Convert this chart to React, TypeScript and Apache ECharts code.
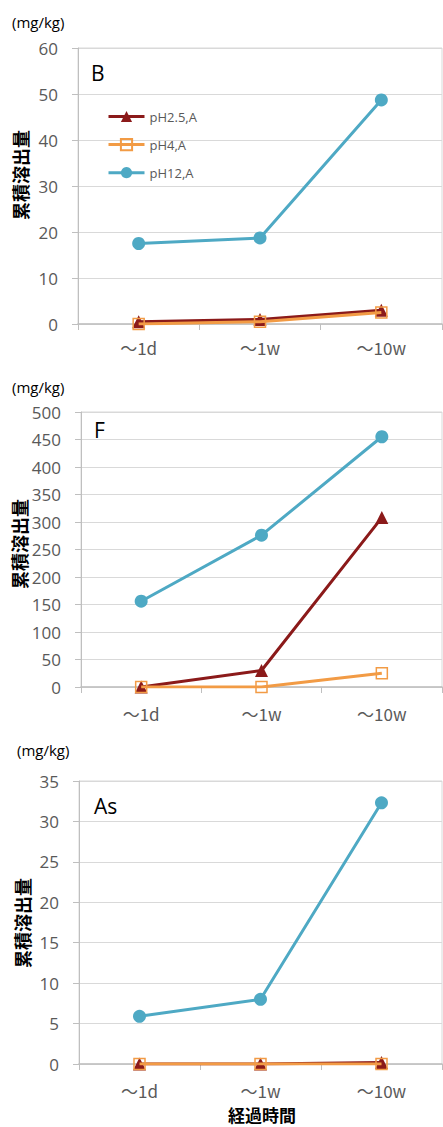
import React, { useEffect, useRef } from "react";
import * as echarts from "echarts";

const categories = ["～1d", "～1w", "～10w"];
const seriesNames = ["pH2.5,A", "pH4,A", "pH12,A"];

const bPH25 = [0.5, 1.0, 3.0];
const bPH4 = [0, 0.5, 2.5];
const bPH12 = [17.5, 18.7, 48.7];

const fPH25 = [0, 30, 308];
const fPH4 = [0, 0, 25];
const fPH12 = [156, 276, 455];

const asPH25 = [0, 0, 0.2];
const asPH4 = [0, 0, 0];
const asPH12 = [5.9, 8.0, 32.3];

const panelLabels = ["B", "F", "As"];
const yMax = [60, 500, 35];
const yInterval = [10, 50, 5];

const RED = "#8B1A1A";
const ORANGE = "#F29B45";
const BLUE = "#4EA9C4";
const GRAY = "#595959";
const NUM_FONT = "'Open Sans', 'Noto Sans', sans-serif";
const JP_FONT = "'Noto Sans CJK JP', sans-serif";

const grids = [
  { left: 78, top: 48, width: 364, height: 276 },
  { left: 81, top: 412, width: 361, height: 275 },
  { left: 79, top: 781, width: 363, height: 283 },
];

export default function App() {
  const ref = useRef<HTMLDivElement>(null);
  useEffect(() => {
    if (!ref.current) return;
    const chart = echarts.init(ref.current, undefined, { renderer: "svg" });
    const data = [
      [bPH25, bPH4, bPH12],
      [fPH25, fPH4, fPH12],
      [asPH25, asPH4, asPH12],
    ];
    const series: any[] = [];
    data.forEach((set, gi) => {
      series.push({
        name: seriesNames[0],
        type: "line",
        xAxisIndex: gi,
        yAxisIndex: gi,
        data: set[0],
        symbol: "triangle",
        symbolSize: 13,
        lineStyle: { color: RED, width: 3 },
        itemStyle: { color: RED },
        z: 3,
      });
      series.push({
        name: seriesNames[1],
        type: "line",
        xAxisIndex: gi,
        yAxisIndex: gi,
        data: set[1],
        symbol: "rect",
        symbolSize: 11,
        lineStyle: { color: ORANGE, width: 3 },
        itemStyle: { color: "rgba(255,255,255,0)", borderColor: ORANGE, borderWidth: 1.5 },
        z: 4,
      });
      series.push({
        name: seriesNames[2],
        type: "line",
        xAxisIndex: gi,
        yAxisIndex: gi,
        data: set[2],
        symbol: "circle",
        symbolSize: 13,
        lineStyle: { color: BLUE, width: 3 },
        itemStyle: { color: BLUE },
        z: 5,
      });
    });

    const unitY = [22, 387, 750];
    const unitX = [12, 12, 17];
    const nameY = [175, 544, 923];
    const nameX = [20, 19, 22];
    const labelPos = [
      [91, 73],
      [94, 430],
      [94, 806],
    ];
    const graphic: any[] = [];
    for (let i = 0; i < 3; i++) {
      graphic.push({
        type: "text",
        x: unitX[i],
        y: unitY[i],
        style: { text: "(mg/kg)", font: `15px ${NUM_FONT}`, fill: "#000", verticalAlign: "middle" },
      });
      graphic.push({
        type: "text",
        x: nameX[i],
        y: nameY[i],
        rotation: Math.PI / 2,
        style: {
          text: "累積溶出量",
          font: `bold 18px ${JP_FONT}`,
          fill: "#000",
          align: "center",
          verticalAlign: "middle",
        },
      });
      graphic.push({
        type: "text",
        x: labelPos[i][0],
        y: labelPos[i][1],
        style: { text: panelLabels[i], font: `21px ${NUM_FONT}`, fill: "#000", verticalAlign: "middle" },
      });
    }
    graphic.push({
      type: "text",
      x: 262,
      y: 1114,
      style: { text: "経過時間", font: `bold 17px ${JP_FONT}`, fill: "#000", align: "center", verticalAlign: "middle" },
    });

    chart.setOption({
      animation: false,
      backgroundColor: "#fff",
      grid: grids.map((g) => ({ ...g, show: true, borderColor: "#d9d9d9", borderWidth: 1 })),
      legend: {
        data: seriesNames,
        orient: "vertical",
        left: 102,
        top: 105,
        itemWidth: 36,
        itemHeight: 14,
        itemGap: 15,
        lineStyle: { width: 3 },
        textStyle: { fontSize: 13, color: GRAY, fontFamily: NUM_FONT },
      },
      xAxis: grids.map((_, i) => ({
        type: "category",
        gridIndex: i,
        data: categories,
        boundaryGap: true,
        axisLine: { show: true, lineStyle: { color: "#bfbfbf", width: 1.5 } },
        axisTick: { show: true, length: 6, alignWithLabel: false, lineStyle: { color: "#bfbfbf" } },
        axisLabel: { color: GRAY, fontSize: 17, fontFamily: JP_FONT, margin: i === 0 ? 15 : 18 },
        splitLine: { show: false },
      })),
      yAxis: grids.map((_, i) => ({
        type: "value",
        gridIndex: i,
        min: 0,
        max: yMax[i],
        interval: yInterval[i],
        axisLine: { show: true, lineStyle: { color: "#bfbfbf" } },
        axisTick: { show: true, length: 6, lineStyle: { color: "#bfbfbf" } },
        axisLabel: { color: GRAY, fontSize: 17, fontFamily: NUM_FONT, margin: 20 },
        splitLine: { show: true, lineStyle: { color: "#d9d9d9" } },
      })),
      series,
      graphic,
    });
    return () => chart.dispose();
  }, []);
  return (
    <div
      ref={ref}
      style={{ position: "absolute", left: 0, top: 0, width: 443, height: 1127 }}
    />
  );
}
